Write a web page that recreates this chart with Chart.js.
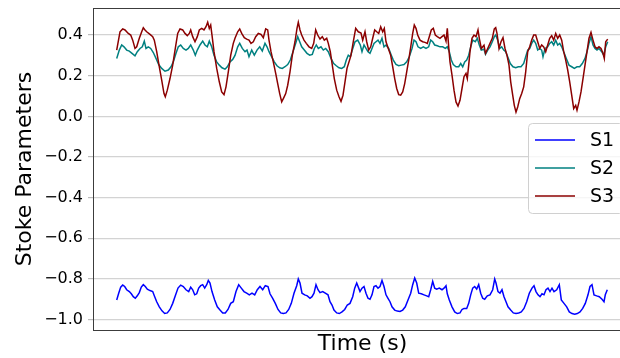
<!DOCTYPE html>
<html>
<head>
<meta charset="utf-8">
<script src="https://cdn.jsdelivr.net/npm/chart.js@4.4.1/dist/chart.umd.min.js"></script>
<style>
  html, body { margin: 0; padding: 0; background: #fff; overflow: hidden; }
  #wrap { width: 645px; height: 358px; }
</style>
</head>
<body>
<div id="wrap"><canvas id="chart" width="645" height="358"></canvas></div>
<script>
// Stokes parameter traces: sample time and value for each series
const seriesNames = ['S1', 'S2', 'S3'];
const seriesColors = ['#0000ff', '#008080', '#8b0000'];
const yTicks = [-1.0, -0.8, -0.6, -0.4, -0.2, 0.0, 0.2, 0.4];

const t1 = [0.7,2.7,4.7,6.7,8.7,10.7,13.3,15.3,17.3,19.3,21.3,23.3,25.3,27.3,29.3,31.3,34,36.7,38.7,40.7,43.3,46,48.7,51.3,54,56.7,59.3,62,64.7,67.3,70,72.7,74.7,76.7,78.7,80.7,82.7,84.7,86.7,88.7,90.7,92.3,94,96,98.7,101.3,104,106.7,109.3,112,114.7,117.3,120,122.7,125.3,128,130.7,133.3,136,138.7,141.3,144,146.7,149.3,152,154,156.7,159.3,162,164.7,167.3,170,172.7,175.3,178,180.7,182.3,184,186,188.7,191.3,194,196,198,200,202,204,206.7,209.3,212,214,216,218,220.7,223.3,226,228.7,231.3,234,236.7,238.7,240.7,242.7,244,246,248,250,252,254,256,258,260,262,264,266,268,270,272,274,276,278.7,281.3,284,286.7,289.3,292,294.7,296.7,298.7,300.7,302.7,305.3,308,310.7,312.7,314.7,316.7,318.7,320.7,323.3,326,328,330,331.3,333.3,336,338.7,341.3,344,346,348,350.7,352.7,354.7,356.7,358.7,360.7,362.7,364.7,366.7,368.7,371.3,374,376.7,378.7,380,382,384,386,388,390,392,394.7,397.3,400,402.7,405.3,408,410.7,413.3,416,418,420,422,424,426,428,430,432,434,436,438,440.7,443.3,445.3,448,450.7,453.3,456,458.7,461.3,464,466.7,469.3,472,474,476,478,480.7,483.3,486,488,489.3,491.3];
const s1 = [-0.903,-0.87,-0.84,-0.83,-0.837,-0.853,-0.862,-0.873,-0.887,-0.895,-0.883,-0.867,-0.84,-0.828,-0.837,-0.85,-0.857,-0.862,-0.887,-0.912,-0.937,-0.957,-0.97,-0.967,-0.95,-0.92,-0.883,-0.845,-0.83,-0.837,-0.853,-0.862,-0.84,-0.853,-0.878,-0.873,-0.845,-0.833,-0.828,-0.845,-0.828,-0.807,-0.82,-0.862,-0.903,-0.937,-0.953,-0.967,-0.967,-0.95,-0.92,-0.912,-0.862,-0.828,-0.845,-0.862,-0.87,-0.878,-0.87,-0.878,-0.853,-0.837,-0.853,-0.833,-0.837,-0.873,-0.895,-0.92,-0.95,-0.967,-0.97,-0.967,-0.95,-0.92,-0.87,-0.833,-0.8,-0.82,-0.87,-0.878,-0.883,-0.895,-0.887,-0.87,-0.828,-0.853,-0.867,-0.862,-0.87,-0.878,-0.912,-0.928,-0.953,-0.967,-0.97,-0.962,-0.95,-0.928,-0.92,-0.887,-0.845,-0.82,-0.845,-0.862,-0.845,-0.837,-0.87,-0.895,-0.9,-0.878,-0.837,-0.833,-0.845,-0.837,-0.807,-0.837,-0.878,-0.895,-0.912,-0.937,-0.953,-0.958,-0.96,-0.953,-0.937,-0.903,-0.87,-0.828,-0.795,-0.82,-0.87,-0.873,-0.878,-0.883,-0.887,-0.853,-0.812,-0.845,-0.85,-0.845,-0.853,-0.845,-0.833,-0.873,-0.903,-0.937,-0.962,-0.97,-0.967,-0.95,-0.945,-0.945,-0.92,-0.878,-0.845,-0.837,-0.85,-0.828,-0.87,-0.895,-0.9,-0.883,-0.878,-0.853,-0.8,-0.82,-0.862,-0.87,-0.853,-0.887,-0.912,-0.937,-0.953,-0.967,-0.97,-0.967,-0.962,-0.945,-0.912,-0.87,-0.845,-0.833,-0.862,-0.878,-0.887,-0.873,-0.878,-0.853,-0.845,-0.862,-0.845,-0.862,-0.853,-0.828,-0.903,-0.92,-0.937,-0.962,-0.97,-0.973,-0.97,-0.962,-0.945,-0.92,-0.878,-0.837,-0.828,-0.878,-0.883,-0.887,-0.9,-0.912,-0.878,-0.853];

const t2 = [0.7,3.3,5.7,8,10.7,13.3,16,19,21.3,24,26.3,28.3,30,32.3,34.7,37.3,40,42.7,45.7,49,52.3,55,57.3,60,62.3,64.7,67.3,70,72.3,74.7,77.3,79.3,81.3,84,86.7,89,91.3,93.3,95.7,98,100.7,103.3,106,109,111.3,114,116.7,119,121.7,123.7,126.3,129,131,133,135.7,138.3,141,143.7,146.3,149,151,153,155.7,158.3,161,163.7,166.3,169,171.7,174.3,177,179.7,181.7,183.7,185.7,188.3,191,193.7,196.3,198.3,200.3,202.3,205,207.3,209.7,212.3,215,217.7,220.3,223,225.7,228.3,230.3,232.3,234.3,236.3,239,241.7,244.3,246,248,250,252,254,256,258,260,262,264,266,268,270,272.7,275.3,277.3,280,282.7,285.3,288,290.7,293.3,296,298,300,302,304.7,307.3,310,312.7,314.7,316.7,318.7,321.3,324,326.7,329.3,331.3,333.3,335.3,337.3,340,342.7,344.7,346.7,348.7,350.7,352.7,354.7,356.7,359.3,361.3,363.3,365.3,368,369.5,371.7,374,376.3,378.3,379.7,381.7,383.7,385.7,387.7,389.7,391.7,394.3,397,399.7,402.3,405,407.7,409.7,411.7,413.7,415.7,417.7,419.7,421.7,423.7,425.7,427,429,431.7,433.7,435.7,437.7,439.7,441.7,443.7,445.7,447.7,450.3,453,455.7,458.3,461,463.7,466.3,469,471,473,475,477,479,481,483,485.7,487.7,489.7,491.7];
const s2 = [0.285,0.326,0.351,0.342,0.326,0.321,0.31,0.298,0.318,0.334,0.342,0.37,0.334,0.342,0.334,0.314,0.285,0.255,0.236,0.222,0.228,0.244,0.268,0.31,0.342,0.351,0.334,0.326,0.334,0.351,0.326,0.301,0.326,0.351,0.37,0.351,0.342,0.37,0.342,0.301,0.268,0.252,0.239,0.232,0.244,0.268,0.28,0.3,0.342,0.359,0.334,0.318,0.326,0.293,0.326,0.301,0.326,0.342,0.321,0.359,0.342,0.318,0.293,0.268,0.249,0.239,0.236,0.244,0.255,0.277,0.318,0.359,0.392,0.367,0.342,0.326,0.31,0.301,0.305,0.334,0.351,0.334,0.342,0.326,0.334,0.318,0.285,0.26,0.249,0.239,0.236,0.244,0.277,0.301,0.293,0.326,0.367,0.375,0.351,0.318,0.351,0.334,0.318,0.31,0.334,0.359,0.367,0.375,0.359,0.384,0.342,0.351,0.334,0.301,0.277,0.255,0.249,0.252,0.255,0.268,0.293,0.334,0.375,0.367,0.342,0.334,0.342,0.334,0.342,0.375,0.367,0.351,0.347,0.342,0.342,0.334,0.342,0.318,0.277,0.255,0.244,0.244,0.26,0.244,0.268,0.277,0.301,0.342,0.375,0.367,0.384,0.351,0.326,0.33,0.305,0.326,0.342,0.367,0.392,0.4,0.375,0.334,0.342,0.326,0.318,0.293,0.26,0.244,0.239,0.244,0.244,0.26,0.293,0.326,0.334,0.359,0.375,0.359,0.326,0.334,0.326,0.293,0.334,0.342,0.359,0.367,0.351,0.375,0.351,0.359,0.342,0.318,0.285,0.252,0.244,0.236,0.244,0.244,0.26,0.285,0.318,0.359,0.392,0.351,0.334,0.326,0.334,0.318,0.301,0.342,0.367];

const t3 = [0.7,4,6.7,9,12.3,14.7,16.7,19,20.7,23.3,25.7,27.3,29,30.7,34,36.7,38.3,40.7,43,45.7,48,49.3,51.3,54,56.7,59.3,61.7,64,66.7,69,71.3,73.3,74.7,76.7,79,81.3,83.3,85.7,88,90,91.7,93.3,94.7,96,98,100.7,103.3,105.7,108,110,112.3,114.7,117.3,119,121.7,123.7,125.7,128.3,130.7,133,135,137.3,139.7,142.3,145,147.3,149.7,151.7,153,155,157.3,159.7,161.7,163.7,165.7,167.7,169.7,171.7,174,176.3,179,181,182.3,184,185.7,188,190.3,193,195.7,197.7,199.7,201.7,204,206.3,208.3,210.7,212.3,214.3,216.3,218.3,220.7,223,225,227,229,231,233,235,237.3,239.7,242.3,245,246.7,249,250.7,252.7,254.7,256.7,258.7,260.7,262.7,264.7,266.7,268.3,270,272.3,274.7,276.7,278.7,280.7,282.7,284.7,286.7,288.7,290.7,293,295,296.7,298.3,300,301.7,304,306.7,309,311.3,313.3,315.3,317.3,319.3,321.3,324,326,328,330,331.3,332.7,334,336,338,340,342,344,346,348,350,351.3,352.7,354,356,358,360,362,363.3,365.3,368,369.5,371.7,374,376.3,378.3,379.7,381,383,385,387,389,391,393,394.7,396.7,398.3,400,401.7,403.7,405.7,407.7,409.7,411.7,413.7,415.7,417.7,419.7,421.7,423.7,425.7,427.7,429.7,431.7,433.7,435.7,437.7,439.7,441.7,443.7,445.7,447.7,449.7,451.7,453.7,455.7,457.7,459.7,461,463,465,467,469,471,473,475,477,479,481,483,485,487,488.3,489.7,491.7];
const s3 = [0.326,0.416,0.43,0.425,0.408,0.4,0.375,0.334,0.342,0.384,0.416,0.436,0.425,0.416,0.403,0.392,0.375,0.318,0.252,0.178,0.112,0.096,0.129,0.186,0.252,0.334,0.408,0.43,0.425,0.408,0.397,0.408,0.425,0.392,0.367,0.392,0.425,0.433,0.425,0.441,0.463,0.433,0.449,0.4,0.318,0.236,0.17,0.12,0.107,0.145,0.219,0.3,0.359,0.384,0.416,0.43,0.408,0.387,0.38,0.375,0.359,0.367,0.392,0.408,0.403,0.387,0.43,0.425,0.375,0.318,0.268,0.211,0.161,0.112,0.071,0.091,0.112,0.153,0.219,0.3,0.367,0.433,0.463,0.425,0.4,0.375,0.359,0.342,0.334,0.359,0.425,0.4,0.38,0.392,0.375,0.384,0.359,0.318,0.252,0.186,0.129,0.096,0.074,0.104,0.17,0.236,0.268,0.3,0.367,0.433,0.416,0.41,0.375,0.416,0.367,0.326,0.342,0.384,0.425,0.416,0.408,0.441,0.416,0.433,0.367,0.334,0.3,0.244,0.186,0.137,0.107,0.104,0.12,0.161,0.219,0.285,0.351,0.408,0.449,0.433,0.4,0.375,0.367,0.364,0.359,0.392,0.425,0.433,0.4,0.392,0.384,0.392,0.4,0.37,0.433,0.342,0.268,0.203,0.129,0.071,0.051,0.079,0.137,0.195,0.211,0.186,0.252,0.318,0.384,0.4,0.392,0.425,0.384,0.334,0.35,0.31,0.334,0.359,0.384,0.43,0.436,0.408,0.334,0.367,0.387,0.334,0.3,0.252,0.17,0.104,0.054,0.021,0.046,0.087,0.112,0.145,0.219,0.318,0.342,0.375,0.4,0.4,0.367,0.334,0.351,0.342,0.318,0.351,0.384,0.397,0.375,0.408,0.384,0.4,0.375,0.318,0.277,0.228,0.17,0.104,0.038,0.054,0.03,0.071,0.12,0.186,0.252,0.318,0.384,0.413,0.375,0.342,0.334,0.342,0.334,0.31,0.285,0.367,0.38];

const times = [t1, t2, t3];
const values = [s1, s2, s3];

const FONT = "'DejaVu Sans', sans-serif";

// Frame around the plotting area (spines)
const framePlugin = {
  id: 'frame',
  afterDatasetsDraw(chart) {
    const {ctx, chartArea: a} = chart;
    ctx.save();
    ctx.strokeStyle = '#3c3c3c';
    ctx.lineWidth = 1;
    ctx.strokeRect(Math.round(a.left) + 0.5, Math.round(a.top) + 0.5,
                   Math.round(a.right - a.left), Math.round(a.bottom - a.top));
    ctx.restore();
  }
};

// Legend box at the right-centre of the plotting area
const legendPlugin = {
  id: 'boxLegend',
  afterDraw(chart) {
    const {ctx, chartArea: a} = chart;
    const w = 95, h = 90, rowGap = 28;
    const right = a.right - 9;
    const cy = (a.top + a.bottom) / 2 - 1;
    const left = right - w, top = cy - h / 2;
    ctx.save();
    ctx.beginPath();
    ctx.roundRect(left + 0.5, top + 0.5, w, h, 4);
    ctx.fillStyle = 'rgba(255,255,255,0.8)';
    ctx.fill();
    ctx.strokeStyle = '#d0d0d0';
    ctx.lineWidth = 1;
    ctx.stroke();
    chart.data.datasets.forEach((ds, i) => {
      const y = cy + (i - 1) * rowGap;
      ctx.beginPath();
      ctx.moveTo(left + 7, y);
      ctx.lineTo(left + 47, y);
      ctx.strokeStyle = ds.borderColor;
      ctx.lineWidth = 1.5;
      ctx.stroke();
      ctx.fillStyle = '#000';
      ctx.font = '19px ' + FONT;
      ctx.textBaseline = 'middle';
      ctx.textAlign = 'left';
      ctx.fillText(ds.label, left + 62, y + 1);
    });
    ctx.restore();
  }
};

const datasets = seriesNames.map((name, i) => ({
  label: name,
  data: times[i].map((t, k) => ({x: t, y: values[i][k]})),
  borderColor: seriesColors[i],
  backgroundColor: seriesColors[i],
  borderWidth: 1.5,
  pointRadius: 0,
  tension: 0,
  fill: false,
  order: 3 - i
}));

new Chart(document.getElementById('chart'), {
  type: 'line',
  data: { datasets },
  plugins: [framePlugin, legendPlugin],
  options: {
    responsive: false,
    animation: false,
    devicePixelRatio: 1,
    layout: { padding: { left: 0, top: 8, right: 13, bottom: 0 } },
    plugins: { legend: { display: false }, tooltip: { enabled: false } },
    scales: {
      x: {
        type: 'linear',
        min: -23,
        max: 516,
        grid: { display: false },
        border: { display: false },
        ticks: { display: false },
        title: {
          display: true,
          text: 'Time (s)',
          color: '#000',
          font: { family: FONT, size: 22 },
          padding: { top: 0, bottom: 1 }
        },
        afterFit(scale) {
          scale.height = 28;
          scale.paddingLeft = 0;
          scale.paddingRight = 0;
        }
      },
      y: {
        type: 'linear',
        min: -1.051,
        max: 0.533,
        afterBuildTicks(scale) {
          scale.ticks = yTicks.map(v => ({ value: v }));
        },
        grid: {
          color: '#d3d3d3',
          lineWidth: 1.2,
          drawTicks: true,
          tickLength: 5,
          tickColor: '#bcbcbc'
        },
        border: { display: false },
        ticks: {
          color: '#000',
          padding: 5,
          font: { family: FONT, size: 16 },
          callback: v => v.toFixed(1).replace('-', '\u2212')
        },
        title: {
          display: true,
          text: 'Stoke Parameters',
          color: '#000',
          font: { family: FONT, size: 22 },
          padding: { top: 12.5, bottom: 0 }
        },
        afterFit(scale) {
          scale.width = 93;
          scale.paddingTop = 0;
          scale.paddingBottom = 0;
        }
      }
    }
  }
});
</script>
</body>
</html>
